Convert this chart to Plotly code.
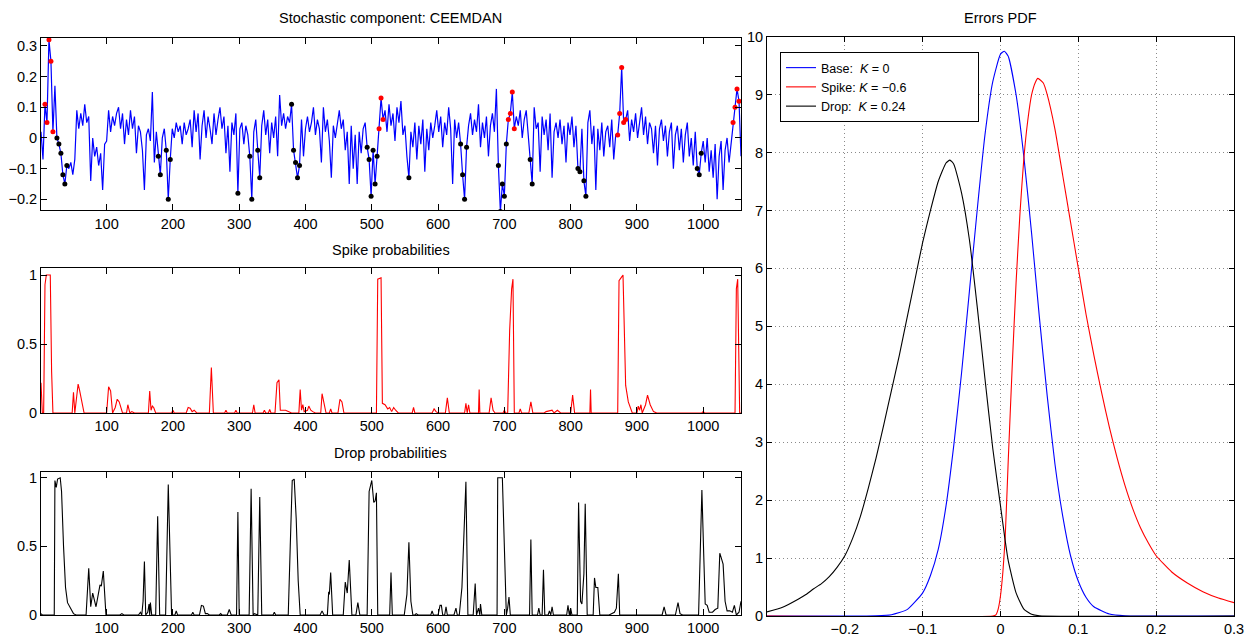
import numpy as np
import plotly.graph_objects as go

# ---------------- data ----------------
# stochastic component, sampled every 3 steps starting at t = 1
stoch = [
    0.02, -0.07, 0.11, 0.05, 0.32, 0.25, 0.02, 0.17, 0.00, -0.02,
    -0.05, -0.12, -0.15, -0.09, -0.10, -0.08, -0.12, -0.07, 0.09, 0.03,
    0.08, 0.04, 0.11, 0.05, 0.07, -0.14, 0.00, -0.06, -0.03, -0.09,
    -0.05, -0.17, -0.02, -0.01, 0.09, 0.02, 0.07, 0.04, 0.08, 0.10,
    0.03, 0.08, -0.02, 0.06, 0.01, 0.09, 0.03, 0.07, -0.05, 0.04,
    0.02, -0.04, -0.17, 0.01, 0.03, -0.01, 0.15, -0.08, 0.02, -0.06,
    -0.12, 0.00, 0.03, -0.04, -0.20, -0.07, 0.03, 0.00, 0.05, 0.02,
    0.04, -0.02, 0.05, 0.01, 0.03, 0.06, -0.03, 0.09, 0.02, 0.08,
    -0.07, 0.04, 0.09, 0.00, 0.07, 0.03, -0.02, 0.08, 0.01, 0.06,
    0.10, 0.03, 0.07, -0.05, 0.04, -0.11, 0.05, 0.01, 0.08, -0.18,
    0.03, 0.05, -0.02, 0.04, 0.01, -0.06, -0.20, 0.02, 0.06, -0.04,
    -0.13, 0.04, 0.09, 0.01, 0.06, -0.05, 0.05, 0.00, 0.07, -0.06,
    0.14, 0.04, 0.08, 0.03, 0.07, 0.05, 0.11, -0.04, -0.08, -0.13,
    -0.09, 0.06, -0.06, 0.03, 0.07, 0.02, 0.05, 0.10, 0.01, 0.06,
    0.03, -0.08, 0.10, 0.02, 0.06, -0.01, -0.13, 0.04, 0.00, 0.05,
    0.09, 0.03, 0.06, -0.04, 0.02, -0.15, 0.04, -0.10, 0.01, -0.15,
    0.02, -0.05, 0.03, 0.05, -0.03, -0.07, -0.19, -0.04, -0.15, -0.06,
    0.03, 0.13, 0.06, 0.09, 0.02, 0.11, 0.04, 0.08, -0.01, 0.10,
    0.05, 0.12, 0.01, 0.04, -0.06, -0.13, 0.02, -0.03, 0.05, -0.07,
    0.04, -0.02, 0.06, -0.11, 0.03, -0.04, 0.05, 0.00, 0.04, 0.09,
    0.02, 0.07, -0.03, 0.05, 0.01, 0.10, 0.03, -0.15, 0.06, 0.00,
    0.05, -0.02, -0.12, -0.20, -0.03, 0.04, 0.08, 0.01, 0.06, 0.02,
    0.11, -0.03, 0.05, 0.00, 0.07, -0.06, 0.04, 0.08, 0.02, 0.16,
    -0.09, -0.24, -0.15, -0.19, -0.02, 0.06, 0.08, 0.15, 0.03, 0.07,
    0.04, 0.09, 0.00, 0.06, 0.09, 0.02, -0.07, -0.15, 0.10, 0.03,
    0.05, -0.11, 0.07, 0.01, 0.06, -0.04, 0.08, -0.13, 0.02, 0.05,
    0.00, 0.06, -0.02, 0.04, -0.08, 0.05, 0.01, 0.07, -0.03, 0.04,
    -0.10, -0.11, 0.03, -0.14, -0.19, 0.05, 0.09, -0.02, 0.04, -0.17,
    0.03, -0.04, 0.05, -0.06, 0.02, 0.04, -0.03, 0.06, -0.07, 0.01,
    0.01, 0.08, 0.23, 0.05, 0.06, 0.09, -0.01, 0.06, 0.02, 0.08,
    0.00, 0.05, 0.10, 0.01, 0.07, -0.02, 0.05, 0.03, -0.05, 0.04,
    -0.09, 0.03, 0.06, -0.01, 0.04, -0.06, 0.02, 0.05, -0.10, 0.01,
    0.04, -0.04, 0.03, -0.08, 0.01, 0.05, -0.06, 0.00, -0.09, 0.02,
    -0.10, -0.12, -0.05, -0.01, -0.08, 0.00, -0.11, -0.04, -0.13, -0.02,
    -0.20, -0.06, -0.01, -0.17, -0.04, 0.00, -0.08, -0.02, 0.05, 0.10,
    0.16, 0.12, -0.06,
]
t0, dt = 1, 3

# time steps flagged as spikes / drops
spike_at = [7, 10, 13, 16, 19, 511, 514, 517, 706, 709, 712, 715,
            871, 874, 877, 880, 883, 1045, 1048, 1051, 1054]
drop_at = [25, 28, 31, 34, 37, 40, 178, 181, 190, 193, 196, 298, 316, 319,
           328, 331, 379, 382, 385, 388, 391, 493, 496, 499, 502, 505, 508,
           556, 634, 637, 640, 643, 691, 694, 697, 700, 703, 739, 742,
           811, 814, 820, 823, 991, 994, 997]

# spike probabilities (time, probability)
spike_t = [1, 3, 5, 7, 9, 15, 17, 19,
           48, 50, 52, 55, 57, 59, 62, 66,
           100, 103, 106, 109, 113, 116, 119, 124,
           130, 132, 135, 138, 142,
           163, 165, 167, 169, 171, 174,
           198, 200, 202,
           220, 223, 226, 229, 232, 236,
           255, 258, 261,
           278, 280, 282, 293, 295, 297,
           320, 322, 324,
           336, 338, 340, 344, 346, 348,
           354, 357, 360, 362, 370, 376, 379,
           390, 392, 394, 396, 398, 403, 405, 408, 411, 415,
           423, 425, 428, 431, 436, 438, 440,
           449, 452, 455, 458,
           500, 507, 509, 514, 516, 520, 524, 527, 530, 533, 536, 540,
           561, 563, 565,
           591, 594, 597, 600,
           611, 614, 617,
           640, 642, 644, 646, 648,
           661, 662, 663,
           677, 680, 683, 686,
           698, 700, 702,
           705, 708, 711, 713, 715,
           722, 724, 726, 737, 740, 743,
           760, 763, 772, 775, 780, 785,
           800, 803, 806,
           829, 830, 831,
           871, 873, 876, 879, 883, 887, 893,
           900, 902, 904, 906, 908, 913, 916, 920, 925, 930,
           998, 1000, 1002,
           1048, 1050, 1052, 1055, 1057]
spike_p = [0.22, 0.0, 0.0, 0.93, 1.0, 1.0, 0.3, 0.0,
           0.0, 0.15, 0.0, 0.14, 0.21, 0.17, 0.09, 0.0,
           0.0, 0.19, 0.16, 0.0, 0.04, 0.10, 0.08, 0.0,
           0.0, 0.06, 0.0, 0.01, 0.0,
           0.0, 0.16, 0.02, 0.05, 0.04, 0.0,
           0.0, 0.02, 0.0,
           0.0, 0.04, 0.035, 0.01, 0.02, 0.0,
           0.0, 0.33, 0.0,
           0.0, 0.02, 0.0, 0.0, 0.02, 0.0,
           0.0, 0.06, 0.0,
           0.0, 0.02, 0.0, 0.0, 0.025, 0.0,
           0.0, 0.22, 0.24, 0.02, 0.02, 0.01, 0.0,
           0.0, 0.17, 0.02, 0.06, 0.01, 0.02, 0.05, 0.02, 0.01, 0.0,
           0.0, 0.14, 0.07, 0.0, 0.0, 0.03, 0.0,
           0.0, 0.10, 0.08, 0.0,
           0.0, 0.0, 0.97, 0.98, 0.07, 0.06, 0.03, 0.04, 0.01, 0.04, 0.02, 0.0,
           0.0, 0.04, 0.0,
           0.0, 0.03, 0.01, 0.0,
           0.0, 0.11, 0.0,
           0.0, 0.07, 0.0, 0.06, 0.0,
           0.0, 0.17, 0.0,
           0.0, 0.11, 0.02, 0.0,
           0.0, 0.02, 0.0,
           0.0, 0.6, 0.9, 0.97, 0.0,
           0.0, 0.03, 0.0, 0.0, 0.08, 0.0,
           0.0, 0.01, 0.02, 0.0, 0.02, 0.0,
           0.0, 0.13, 0.0,
           0.0, 0.17, 0.0,
           0.0, 0.96, 0.98, 1.0, 0.2, 0.08, 0.0,
           0.0, 0.05, 0.02, 0.06, 0.0, 0.06, 0.13, 0.06, 0.01, 0.0,
           0.0, 0.01, 0.0,
           0.0, 0.9, 0.97, 0.0, 0.0]

# drop probabilities (time, probability)
drop_t = [1, 3, 21, 22, 24, 26, 30, 32, 35, 38, 41, 45, 50, 54,
          69, 73, 76, 79, 84, 90, 92, 95, 99,
          120, 123, 126, 148, 151, 153, 155, 157, 159, 162, 164, 165, 166, 168,
          174, 177, 180, 189, 193, 198,
          203, 205, 207, 228, 230, 232,
          240, 243, 246, 249, 252, 255,
          270, 272, 274, 282, 285, 288,
          296, 298, 300,
          315, 318, 321, 323, 326, 328, 331, 334,
          351, 353, 355,
          374, 377, 380, 383, 386, 389, 392,
          422, 425, 428,
          433, 435, 436, 438, 441,
          457, 460, 463, 466, 470,
          476, 479, 482,
          493, 496, 500, 503, 505, 507, 509,
          527, 529, 531,
          549, 553, 556, 559, 562,
          565, 567, 570,
          589, 591, 593, 600, 603, 605, 607, 610, 612, 614,
          624, 627, 629, 632, 636, 642, 645,
          653, 656, 658, 661, 663, 664, 666,
          689, 690, 697, 700, 703, 705, 707, 709,
          738, 740, 742,
          750, 752, 754, 757, 759, 761,
          766, 768, 770, 772, 774,
          794, 796, 798, 800, 802,
          810, 812, 815, 817, 820, 822, 825,
          834, 836, 838, 841, 844,
          858, 862, 866, 869, 872, 874,
          938, 941, 944, 958, 962, 965, 969,
          993, 996, 998, 1001, 1003, 1006, 1009, 1014, 1018, 1022, 1025, 1027,
          1030, 1033, 1036, 1040, 1044, 1047, 1050, 1054, 1057]
drop_p = [0.01, 0.0, 0.0, 0.98, 0.93, 0.99, 1.0, 0.9, 0.5, 0.2, 0.09, 0.05, 0.01, 0.0,
          0.0, 0.34, 0.06, 0.16, 0.06, 0.22, 0.21, 0.32, 0.0,
          0.0, 0.01, 0.0, 0.0, 0.02, 0.0, 0.1, 0.39, 0.0, 0.02, 0.08, 0.0, 0.09, 0.0,
          0.0, 0.72, 0.0, 0.0, 0.95, 0.0,
          0.0, 0.03, 0.0, 0.0, 0.02, 0.0,
          0.0, 0.07, 0.065, 0.01, 0.01, 0.0,
          0.0, 0.01, 0.0, 0.0, 0.04, 0.0,
          0.0, 0.75, 0.0,
          0.0, 0.92, 0.0, 0.01, 0.0, 0.0, 0.86, 0.0,
          0.0, 0.02, 0.0,
          0.0, 0.5, 0.98, 0.99, 0.7, 0.25, 0.0,
          0.0, 0.03, 0.0,
          0.0, 0.17, 0.15, 0.31, 0.0,
          0.0, 0.24, 0.16, 0.40, 0.0,
          0.0, 0.09, 0.0,
          0.0, 0.9, 0.98, 0.82, 0.83, 0.89, 0.0,
          0.0, 0.31, 0.0,
          0.0, 0.15, 0.53, 0.1, 0.0,
          0.0, 0.01, 0.0,
          0.0, 0.03, 0.0, 0.0, 0.07, 0.07, 0.0, 0.0, 0.06, 0.0,
          0.0, 0.05, 0.0, 0.0, 0.2, 0.97, 0.0,
          0.0, 0.23, 0.0, 0.05, 0.0, 0.08, 0.0,
          0.0, 1.0, 1.0, 0.5, 0.0, 0.05, 0.13, 0.0,
          0.0, 0.55, 0.0,
          0.0, 0.05, 0.0, 0.0, 0.33, 0.0,
          0.0, 0.03, 0.0, 0.06, 0.0,
          0.0, 0.07, 0.0, 0.05, 0.0,
          0.0, 0.82, 0.1, 0.08, 0.3, 0.81, 0.0,
          0.0, 0.27, 0.2, 0.2, 0.0,
          0.0, 0.01, 0.02, 0.05, 0.3, 0.0,
          0.0, 0.06, 0.0, 0.0, 0.09, 0.01, 0.0,
          0.0, 0.7, 0.91, 0.4, 0.08, 0.07, 0.02, 0.02, 0.04, 0.05, 0.45, 0.42,
          0.37, 0.1, 0.03, 0.03, 0.02, 0.07, 0.0, 0.02, 0.1]

# error densities
base_x = [-0.30, -0.20, -0.16, -0.14, -0.12, -0.10, -0.09, -0.08, -0.07, -0.06,
          -0.05, -0.04, -0.03, -0.02, -0.01, 0.00, 0.005, 0.01, 0.02, 0.03,
          0.04, 0.05, 0.06, 0.07, 0.08, 0.09, 0.10, 0.11, 0.12, 0.14,
          0.16, 0.20, 0.30]
base_y = [0.0, 0.0, 0.004, 0.022, 0.11, 0.40, 0.70, 1.15, 1.9, 2.95,
          4.2, 5.6, 7.0, 8.3, 9.22, 9.70, 9.75, 9.66, 9.0, 7.93,
          6.6, 5.15, 3.8, 2.62, 1.72, 1.04, 0.60, 0.32, 0.16, 0.035,
          0.005, 0.0, 0.0]

spike_pdf_x = [-0.30, -0.010, -0.006, -0.003, 0.000, 0.003, 0.006, 0.010, 0.015, 0.020,
               0.025, 0.030, 0.035, 0.040, 0.045, 0.048, 0.055, 0.060, 0.070, 0.080,
               0.090, 0.100, 0.110, 0.120, 0.130, 0.140, 0.150, 0.160, 0.170, 0.180,
               0.190, 0.200, 0.220, 0.240, 0.260, 0.280, 0.300]
spike_pdf_y = [0.0, 0.0, 0.02, 0.12, 0.35, 0.75, 1.35, 2.7, 4.3, 5.75,
               6.95, 7.9, 8.55, 9.0, 9.22, 9.28, 9.2, 9.0, 8.4, 7.6,
               6.8, 6.0, 5.2, 4.5, 3.85, 3.25, 2.72, 2.25, 1.85, 1.52,
               1.26, 1.04, 0.76, 0.57, 0.42, 0.31, 0.23]

drop_pdf_x = [-0.30, -0.28, -0.26, -0.25, -0.24, -0.23, -0.22, -0.21, -0.20, -0.19,
              -0.18, -0.17, -0.16, -0.15, -0.14, -0.13, -0.12, -0.11, -0.10, -0.09,
              -0.08, -0.07, -0.065, -0.06, -0.05, -0.04, -0.03, -0.02, -0.01, 0.0,
              0.006, 0.01, 0.02, 0.03, 0.04, 0.05, 0.30]
drop_pdf_y = [0.07, 0.15, 0.29, 0.37, 0.47, 0.56, 0.68, 0.84, 1.04, 1.34,
              1.72, 2.2, 2.72, 3.3, 3.9, 4.5, 5.15, 5.8, 6.45, 7.0,
              7.5, 7.82, 7.87, 7.8, 7.3, 6.5, 5.35, 4.1, 2.9, 1.9,
              1.3, 0.95, 0.4, 0.12, 0.03, 0.005, 0.0]

legend_names = ["Base:  <i>K</i> = 0", "Spike: <i>K</i> = \u22120.6", "Drop:  <i>K</i> = 0.24"]

# ---------------- figure ----------------
t = t0 + dt * np.arange(len(stoch))
series = dict(zip(t.tolist(), stoch))
W, H = 1249, 637
FONT = "Liberation Sans, Arial, Helvetica, sans-serif"
FS = 14.5

fig = go.Figure()

# top-left: stochastic component with flagged points
fig.add_trace(go.Scatter(x=t, y=stoch, mode="lines", line=dict(color="#0000ff", width=1.2),
                         xaxis="x", yaxis="y", showlegend=False))
fig.add_trace(go.Scatter(x=drop_at, y=[series[k] for k in drop_at], mode="markers",
                         marker=dict(color="black", size=5), xaxis="x", yaxis="y", showlegend=False))
fig.add_trace(go.Scatter(x=spike_at, y=[series[k] for k in spike_at], mode="markers",
                         marker=dict(color="#ff0000", size=5), xaxis="x", yaxis="y", showlegend=False))

# middle-left and bottom-left: probabilities
fig.add_trace(go.Scatter(x=spike_t, y=spike_p, mode="lines", line=dict(color="#ff0000", width=1.1),
                         xaxis="x2", yaxis="y2", showlegend=False))
fig.add_trace(go.Scatter(x=drop_t, y=drop_p, mode="lines", line=dict(color="black", width=1.1),
                         xaxis="x3", yaxis="y3", showlegend=False))

# right: error densities (trailing blanks widen the legend box)
pad = "\u00a0" * 19
for xs, ys, col, name in [(base_x, base_y, "#0000ff", legend_names[0]),
                          (spike_pdf_x, spike_pdf_y, "#ff0000", legend_names[1]),
                          (drop_pdf_x, drop_pdf_y, "black", legend_names[2])]:
    fig.add_trace(go.Scatter(x=xs, y=ys, mode="lines", name=name + pad,
                             line=dict(color=col, width=1.1, shape="spline", smoothing=0.5),
                             xaxis="x4", yaxis="y4"))


def px_x(a, b):
    return [a / W, b / W]


def px_y(top, bottom):
    return [1 - bottom / H, 1 - top / H]


ax_common = dict(showline=True, linecolor="black", linewidth=1, mirror="ticks",
                 ticks="inside", tickcolor="black", ticklen=6, zeroline=False,
                 automargin=False, showgrid=False,
                 tickfont=dict(size=FS, color="black", family=FONT))
grid = dict(showgrid=True, gridcolor="#8a8a8a", griddash="1px,3px", gridwidth=1)

t_ticks = list(range(100, 1001, 100))
fig.update_layout(
    width=W, height=H, margin=dict(l=0, r=0, t=0, b=0, pad=0, autoexpand=False),
    paper_bgcolor="white", plot_bgcolor="white",
    font=dict(family=FONT, size=FS, color="black"),
    xaxis=dict(ax_common, domain=px_x(41, 741), range=[1, 1057], tickvals=t_ticks, anchor="y"),
    yaxis=dict(ax_common, domain=px_y(37.7, 210.3), range=[-0.236, 0.327],
               tickvals=[-0.2, -0.1, 0, 0.1, 0.2, 0.3], anchor="x"),
    xaxis2=dict(ax_common, domain=px_x(41, 741), range=[1, 1057], tickvals=t_ticks, anchor="y2"),
    yaxis2=dict(ax_common, domain=px_y(268.3, 413), range=[0, 1.049],
                tickvals=[0, 0.5, 1], ticktext=["0", "0.5", "1"], anchor="x2"),
    xaxis3=dict(ax_common, domain=px_x(41, 741), range=[1, 1057], tickvals=t_ticks, anchor="y3"),
    yaxis3=dict(ax_common, domain=px_y(471.7, 615), range=[0, 1.044],
                tickvals=[0, 0.5, 1], ticktext=["0", "0.5", "1"], anchor="x3"),
    xaxis4=dict(ax_common, **grid, domain=px_x(767, 1234), range=[-0.3, 0.3],
                tickvals=[-0.2, -0.1, 0, 0.1, 0.2, 0.3], ticklen=5, anchor="y4"),
    yaxis4=dict(ax_common, **grid, domain=px_y(36.7, 616), range=[0, 10],
                tickvals=list(range(0, 11)), ticklen=5, anchor="x4"),
    legend=dict(x=780 / W, y=1 - 52 / H, xanchor="left", yanchor="top",
                bordercolor="black", borderwidth=1, bgcolor="white",
                font=dict(size=12.5, family=FONT, color="black"), tracegroupgap=0),
)
for k in ("xaxis", "yaxis", "xaxis2", "yaxis2", "xaxis3", "yaxis3"):
    fig.layout[k].showgrid = False

titles = [("Stochastic component: CEEMDAN", 391, 18), ("Spike probabilities", 391, 250),
          ("Drop probabilities", 391, 453), ("Errors PDF", 1000, 18)]
for text, cx, cy in titles:
    fig.add_annotation(text=text, x=cx / W, y=1 - cy / H, xref="paper", yref="paper",
                       showarrow=False, xanchor="center", yanchor="middle",
                       font=dict(size=FS, family=FONT, color="black"))

fig.write_html("out.html")
